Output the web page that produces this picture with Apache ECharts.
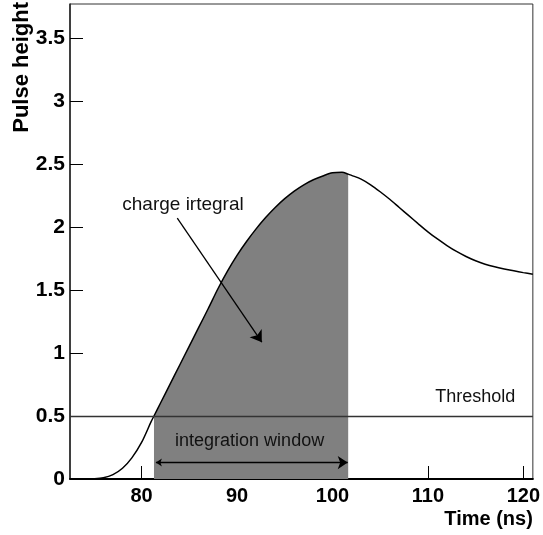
<!DOCTYPE html>
<html>
<head>
<meta charset="utf-8">
<script src="https://cdn.jsdelivr.net/npm/echarts@6/dist/echarts.min.js"></script>
<style>
  html, body { margin: 0; padding: 0; background: #fff; }
  #chart { width: 543px; height: 535px; }
</style>
</head>
<body>
<div id="chart"></div>
<script>
// pulse shape
const timeNs = [72.5, 74, 75, 76, 77, 78, 79, 80, 81, 81.3, 82, 83, 84, 85, 86, 87, 88, 89, 90,
  91, 92, 93, 94, 95, 96, 97, 98, 99, 100, 101, 101.65, 102, 103, 104, 105, 106, 107, 108, 109, 110,
  111, 112, 113, 114, 115, 116, 117, 118, 119, 120, 121];
const pulseHeight = [0, 0, 0.002, 0.01, 0.035, 0.085, 0.17, 0.29, 0.455, 0.5, 0.605, 0.755, 0.905, 1.055, 1.205, 1.355, 1.51, 1.65, 1.775,
  1.885, 1.985, 2.075, 2.155, 2.225, 2.285, 2.335, 2.375, 2.405, 2.43, 2.435, 2.42, 2.41, 2.38, 2.335, 2.28, 2.22, 2.155, 2.09, 2.025, 1.962,
  1.905, 1.853, 1.806, 1.766, 1.732, 1.705, 1.684, 1.667, 1.652, 1.638, 1.625];
const xTicks = [80, 90, 100, 110, 120];
const yTicks = [0, 0.5, 1, 1.5, 2, 2.5, 3, 3.5];
const threshold = 0.5;
const windowStart = 81.3;
const windowEnd = 101.65;

const curve = timeNs.map((t, i) => [t, pulseHeight[i]]);
const integralArea = curve.filter(p => p[0] >= windowStart && p[0] <= windowEnd);

const chartDom = document.getElementById('chart');
const myChart = echarts.init(chartDom);

const textFont = "'Liberation Sans', Arial, sans-serif";

const option = {
  backgroundColor: '#fff',
  animation: false,
  grid: {
    left: 70, right: 7.5, top: 4, bottom: 56,
    show: true, borderColor: '#333', borderWidth: 1
  },
  xAxis: {
    type: 'value',
    min: 72.5,
    max: 121,
    name: 'Time (ns)',
    nameLocation: 'end',
    nameGap: 0,
    nameTextStyle: {
      color: '#000', fontSize: 20, fontWeight: 'bold', fontFamily: textFont,
      align: 'right', verticalAlign: 'top', padding: [30, 0, 0, 0]
    },
    axisLine: { onZero: false, lineStyle: { color: '#000', width: 2 } },
    axisTick: { inside: true, length: 13, customValues: xTicks, lineStyle: { color: '#000', width: 1 } },
    axisLabel: {
      customValues: xTicks, color: '#000', fontSize: 20, fontWeight: 'bold',
      fontFamily: textFont, margin: 7
    },
    splitLine: { show: false }
  },
  yAxis: {
    type: 'value',
    min: 0,
    max: 3.77,
    axisLine: { onZero: false, lineStyle: { color: '#222', width: 1.5 } },
    axisTick: { inside: true, length: 13, customValues: yTicks, lineStyle: { color: '#000', width: 1 } },
    axisLabel: {
      customValues: yTicks, color: '#000', fontSize: 21, fontWeight: 'bold',
      fontFamily: textFont, margin: 5
    },
    splitLine: { show: false }
  },
  series: [
    {
      name: 'integral',
      type: 'line',
      data: integralArea,
      smooth: 0.3,
      symbol: 'none',
      lineStyle: { width: 0 },
      areaStyle: { color: '#808080', opacity: 1 },
      z: 1
    },
    {
      name: 'pulse',
      type: 'line',
      data: curve,
      smooth: 0.3,
      symbol: 'none',
      lineStyle: { color: '#000', width: 1.5 },
      markLine: {
        silent: true,
        symbol: 'none',
        label: { show: false },
        lineStyle: { color: '#333', width: 1.3, type: 'solid' },
        data: [{ yAxis: threshold }]
      },
      z: 3
    },
    {
      type: 'lines',
      coordinateSystem: 'cartesian2d',
      symbol: ['none', 'arrow'],
      symbolSize: [6, 11],
      lineStyle: { color: '#000', width: 1.3, opacity: 1 },
      data: [{ coords: [[83.74, 2.07], [92.6, 1.086]] }],
      z: 4
    },
    {
      type: 'lines',
      coordinateSystem: 'cartesian2d',
      symbol: ['arrow', 'arrow'],
      symbolSize: [6, 10],
      lineStyle: { color: '#000', width: 1.3, opacity: 1 },
      data: [{ coords: [[81.5, 0.13], [101.6, 0.13]] }],
      z: 4
    }
  ]
};

myChart.setOption(option);

// text annotations placed in data space
const notes = [
  { text: 'charge irtegral', at: [84.34, 2.175], size: 19 },
  { text: 'integration window', at: [91.32, 0.30], size: 18 },
  { text: 'Threshold', at: [114.97, 0.65], size: 18 }
];
const graphics = notes.map(n => {
  const p = myChart.convertToPixel({ gridIndex: 0 }, n.at);
  return {
    type: 'text', x: p[0], y: p[1], z: 10,
    style: {
      text: n.text, fill: '#111', font: n.size + 'px ' + textFont,
      align: 'center', verticalAlign: 'middle'
    }
  };
});
graphics.push({
  type: 'text', x: 22, y: 2, rotation: Math.PI / 2, z: 10,
  style: {
    text: 'Pulse height', fill: '#000', font: 'bold 22px ' + textFont,
    align: 'right', verticalAlign: 'middle'
  }
});
myChart.setOption({ graphic: graphics });

window.addEventListener('resize', () => myChart.resize());
</script>
</body>
</html>
